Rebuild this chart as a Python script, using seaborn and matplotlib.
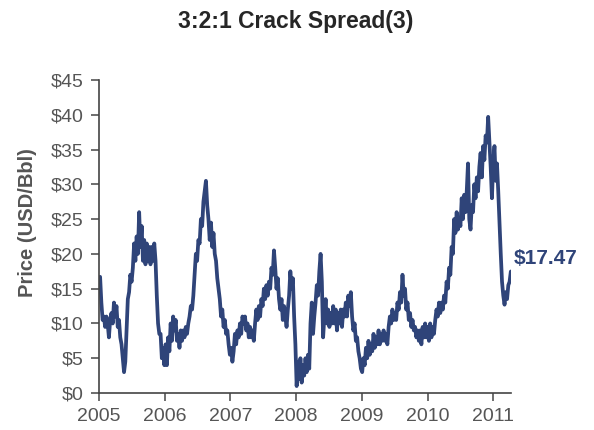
import numpy as np
import pandas as pd
import seaborn as sns
import matplotlib
matplotlib.use("Agg")
import matplotlib.pyplot as plt
import matplotlib.dates as mdates
from matplotlib.ticker import FuncFormatter

# weekly 3:2:1 crack spread, USD/Bbl
y2005 = [16.7, 13, 10.5, 11, 9.5, 11, 10, 8, 10.5, 11.5, 10, 13, 11, 12.5, 9.5, 10.5,
         8, 7, 5, 3, 4.5, 9, 13.5, 14.5, 17, 16, 18, 21.5, 19, 22.5, 20, 26,
         21, 24, 19, 22, 18.5, 21.5, 19, 21, 18.5, 21, 19, 21.5, 19, 14,
         10, 8.5, 8.5, 5, 6.5, 4]
y2006 = [7, 4, 8, 6, 10, 7.5, 11, 9, 10.5, 7.5, 8.5, 6.5, 9, 7.5, 9, 8,
         9.5, 8.5, 10, 11, 12.5, 12, 14, 17, 20, 19, 22, 21.5, 25, 24, 27.5, 29,
         30.5, 27, 25, 22, 24.5, 21, 23, 20, 19, 16.5, 15, 13.5, 11, 12,
         9.5, 10.5, 8.5, 9, 7, 5.5]
y2007 = [6.5, 4.5, 6, 8.5, 7, 9, 8, 10, 8.5, 11, 10, 11, 9, 10, 8, 9.5,
         8, 9, 7.5, 10, 12, 10.5, 12.5, 11, 13.5, 12.5, 15, 13.5, 15.5, 14, 16, 15,
         18, 17, 20.5, 18, 15, 16.5, 13.5, 12, 13.5, 10.5, 12.5, 11, 9.5, 12,
         14, 17.5, 15, 16.5, 11, 7]
y2008 = [1, 4.5, 2, 5, 1.5, 4, 2.5, 5, 3, 5.5, 3.5, 10, 13, 8.5, 11, 13,
         15.5, 14, 17.5, 20, 16, 8, 11, 13.5, 10, 12, 9.5, 11.5, 10, 12.5, 10, 12,
         9, 11.5, 10, 12, 9.5, 12, 11, 13, 11, 14, 12.5, 14.5, 11, 9,
         10, 7.5, 8, 6, 5, 3.5]
y2009 = [3, 5, 4, 6.5, 5, 7.5, 5.5, 7, 6, 8.5, 6.5, 8, 7, 9, 7, 8.5,
         7.5, 9, 7.5, 8.5, 7, 9.5, 11, 10, 12, 10.5, 11.5, 10.5, 13, 12, 14.5, 13,
         17, 14, 15, 12, 13, 10.5, 11.5, 9.5, 10.5, 9, 9.5, 8, 9, 7.5,
         9, 7, 9.5, 8, 10, 8]
y2010 = [9.5, 7.5, 10, 8, 9.5, 8.5, 10.5, 12, 11, 13, 11.5, 13, 12, 14, 13, 16,
         15, 18, 17, 21, 20, 25, 23, 26, 23.5, 25, 24, 28, 25, 28.5, 26, 29,
         33, 25, 23.5, 27, 26, 30, 28, 31, 29, 32.5, 34.5, 31, 35.5, 33.5,
         37, 36, 39.7, 36, 32.5, 28]
y2011 = [33, 35.5, 30.5, 33, 29, 24.5, 20, 16, 14, 12.7, 14.5, 13.5, 15.5, 16, 17.47]

price = y2005 + y2006 + y2007 + y2008 + y2009 + y2010 + y2011
dates = pd.date_range("2005-01-07", periods=len(price), freq="W-FRI")
df = pd.DataFrame({"Date": dates, "Price": price})

sns.set_style("ticks")
plt.rcParams["font.family"] = ["Liberation Sans", "DejaVu Sans"]

navy = "#2f4479"
grey = "#555555"

fig = plt.figure(figsize=(5.94, 4.30), dpi=100)
ax = fig.add_axes([0.1667, 0.086, 0.6936, 0.728])

sns.lineplot(data=df, x="Date", y="Price", ax=ax, color=navy, linewidth=2.7)

ax.set_ylim(0, 45)
ax.set_yticks(np.arange(0, 50, 5))
ax.yaxis.set_major_formatter(FuncFormatter(lambda v, p: "$%d" % v))
ax.set_xlim(pd.Timestamp("2005-01-01"), pd.Timestamp("2011-04-09"))
ax.xaxis.set_major_locator(mdates.YearLocator())
ax.xaxis.set_major_formatter(mdates.DateFormatter("%Y"))

ax.set_xlabel("")
ax.set_ylabel("Price (USD/Bbl)", fontsize=14.5, fontweight="bold", color=grey)
ax.yaxis.set_label_coords(-0.15, 0.543)
ax.tick_params(axis="both", labelsize=14, colors=grey, length=6, width=1.2, pad=5)
for s in ["left", "bottom"]:
    ax.spines[s].set_color("#444444")
    ax.spines[s].set_linewidth(1.2)
sns.despine(ax=ax)

ax.annotate("$17.47", xy=(dates[-1], price[-1]), xytext=(2, 9),
            textcoords="offset points", ha="left", va="center",
            fontsize=15, fontweight="bold", color=navy, annotation_clip=False)

fig.suptitle("3:2:1 Crack Spread(3)", fontsize=16.5, fontweight="bold",
             x=0.497, y=0.951, va="center")

fig.savefig("out.png", dpi=100)
